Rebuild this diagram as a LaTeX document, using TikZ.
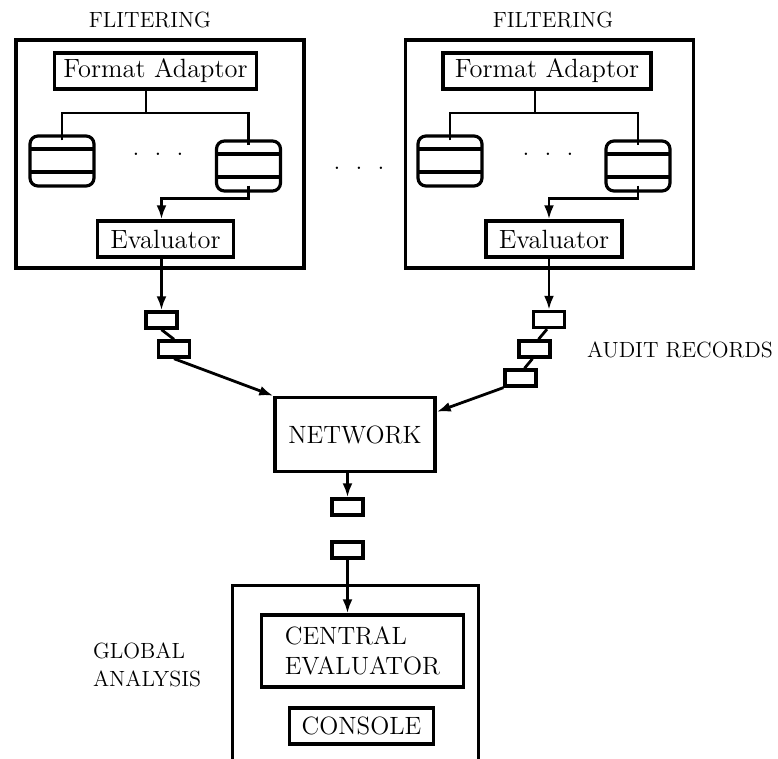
\documentclass[tikz,border=0pt]{standalone}
\usetikzlibrary{arrows.meta}
\usetikzlibrary{positioning}

\tikzset{
  boxtxt/.style={font=\fontsize{12.5}{15}\selectfont},
  lctxt/.style={font=\fontsize{13.2}{15}\selectfont},
  blk/.style={draw, line width=1.7pt, inner sep=2pt, minimum height=18pt, boxtxt},
  grp/.style={draw, line width=1.7pt, minimum width=144pt, minimum height=114pt},
  store/.style={draw, line width=1.6pt, rounded corners=4pt,
    minimum width=32pt, minimum height=25pt, inner sep=0pt,
    path picture={
      \draw[line width=1.6pt]
        ([yshift=-6.5pt]path picture bounding box.north west) --
        ([yshift=-6.5pt]path picture bounding box.north east)
        ([yshift=7pt]path picture bounding box.south west) --
        ([yshift=7pt]path picture bounding box.south east);
    }},
  rec/.style={draw, line width=1.7pt, minimum width=15.5pt, minimum height=8pt, inner sep=0pt},
  lbl/.style={font=\fontsize{11}{14}\selectfont},
  wire/.style={line width=1.4pt},
  arr/.style={wire, -{Latex[length=7pt,width=5pt]}},
}

\newcommand{\threedots}{\makebox[11pt]{.}\makebox[11pt]{.}\makebox[11pt]{.}}

\begin{document}
\begin{tikzpicture}[x=0.5pt, y=-0.5pt]
  \useasboundingbox (0,0) rectangle (778,759);

  % left filtering
  \node[grp] (lfilt) at (160,154) {};
  \node[lbl] (llbl) at (150,20) {FLITERING};
  \node[blk, lctxt, minimum width=101pt] (lfa) at (155.5,71) {Format Adaptor};
  \node[store] (lstoreA) at (62,161) {};
  \node[store] (lstoreB) at (248.5,166) {};
  \node[boxtxt, inner sep=0pt] (ldots) at (158,154) {\threedots};
  \node[blk, lctxt, minimum width=68pt] (leval) at (165.5,239) {Evaluator};
  \coordinate (lsplit) at (146,113);
  \node[rec] (lrec1) at (161.5,320) {};
  \node[rec] (lrec2) at (174,349) {};

  \draw[wire] ([xshift=-4.75pt]lfa.south) -- (lsplit);
  \draw[wire] ([yshift=-3pt]lstoreA.north) |- (lsplit) -| ([yshift=-3pt]lstoreB.north);
  \draw[arr] ([yshift=3.5pt]lstoreB.south) -- ++(0,13) -| (leval.north -| lrec1);
  \draw[arr] (leval.south -| lrec1) -- (lrec1.north);
  \draw[wire] (lrec1.south) -- (lrec2.north);

  % right filtering
  \node[grp] (rfilt) at (549.5,154) {};
  \node[lbl] (rlbl) at (553,20) {FILTERING};
  \node[blk, lctxt, minimum width=104pt] (rfa) at (547,71) {Format Adaptor};
  \node[store] (rstoreA) at (450,161) {};
  \node[store] (rstoreB) at (638,166) {};
  \node[boxtxt, inner sep=0pt] (rdots) at (548,154) {\threedots};
  \node[blk, lctxt, minimum width=68pt] (reval) at (554,239) {Evaluator};
  \coordinate (rsplit) at (535,113);
  \node[rec] (rrec1) at (549,319.5) {};
  \node[rec] (rrec2) at (534.5,349) {};
  \node[rec] (rrec3) at (520.5,378) {};

  \draw[wire] ([xshift=-6pt]rfa.south) -- (rsplit);
  \draw[wire] ([yshift=-3pt]rstoreA.north) |- (rsplit) -| ([yshift=-3pt]rstoreB.north);
  \draw[arr] ([yshift=3.5pt]rstoreB.south) -- ++(0,13) -| (reval.north -| rrec1);
  \draw[arr] (reval.south -| rrec1) -- (rrec1.north);
  \draw[wire] ([xshift=-1pt]rrec1.south) -- ([xshift=2pt]rrec2.north);
  \draw[wire] ([xshift=-1pt]rrec2.south) -- ([xshift=2pt]rrec3.north);

  \node[boxtxt, inner sep=0pt] (mdots) at (359,168) {\threedots};
  \node[lbl, anchor=west] (audit) at (580,350) {AUDIT RECORDS};

  % network
  \node[blk, minimum width=80pt, minimum height=37pt] (net) at (355,434.5) {NETWORK};
  \draw[arr] (lrec2.south) -- (net.north west);
  \draw[arr] (rrec3.south west) -- ([yshift=-8pt]net.north east);
  \node[rec] (nrec1) at (347.5,507) {};
  \node[rec] (nrec2) at (347.5,550) {};
  \draw[arr] (net.south -| nrec1) -- (nrec1.north);

  % global analysis
  \draw[line width=1.5pt] (232,759) |- (478,586) -- (478,759);
  \node[lbl, anchor=west, align=left] (glbl) at (86,665) {GLOBAL\\ANALYSIS};
  \node[blk, minimum width=101pt, minimum height=36pt, align=left] (ceval) at (362.5,651) {CENTRAL\\EVALUATOR};
  \node[blk, minimum width=72pt] (cons) at (361.5,726) {CONSOLE};
  \draw[arr] (nrec2.south) -- (ceval.north -| nrec2);
\end{tikzpicture}
\end{document}
